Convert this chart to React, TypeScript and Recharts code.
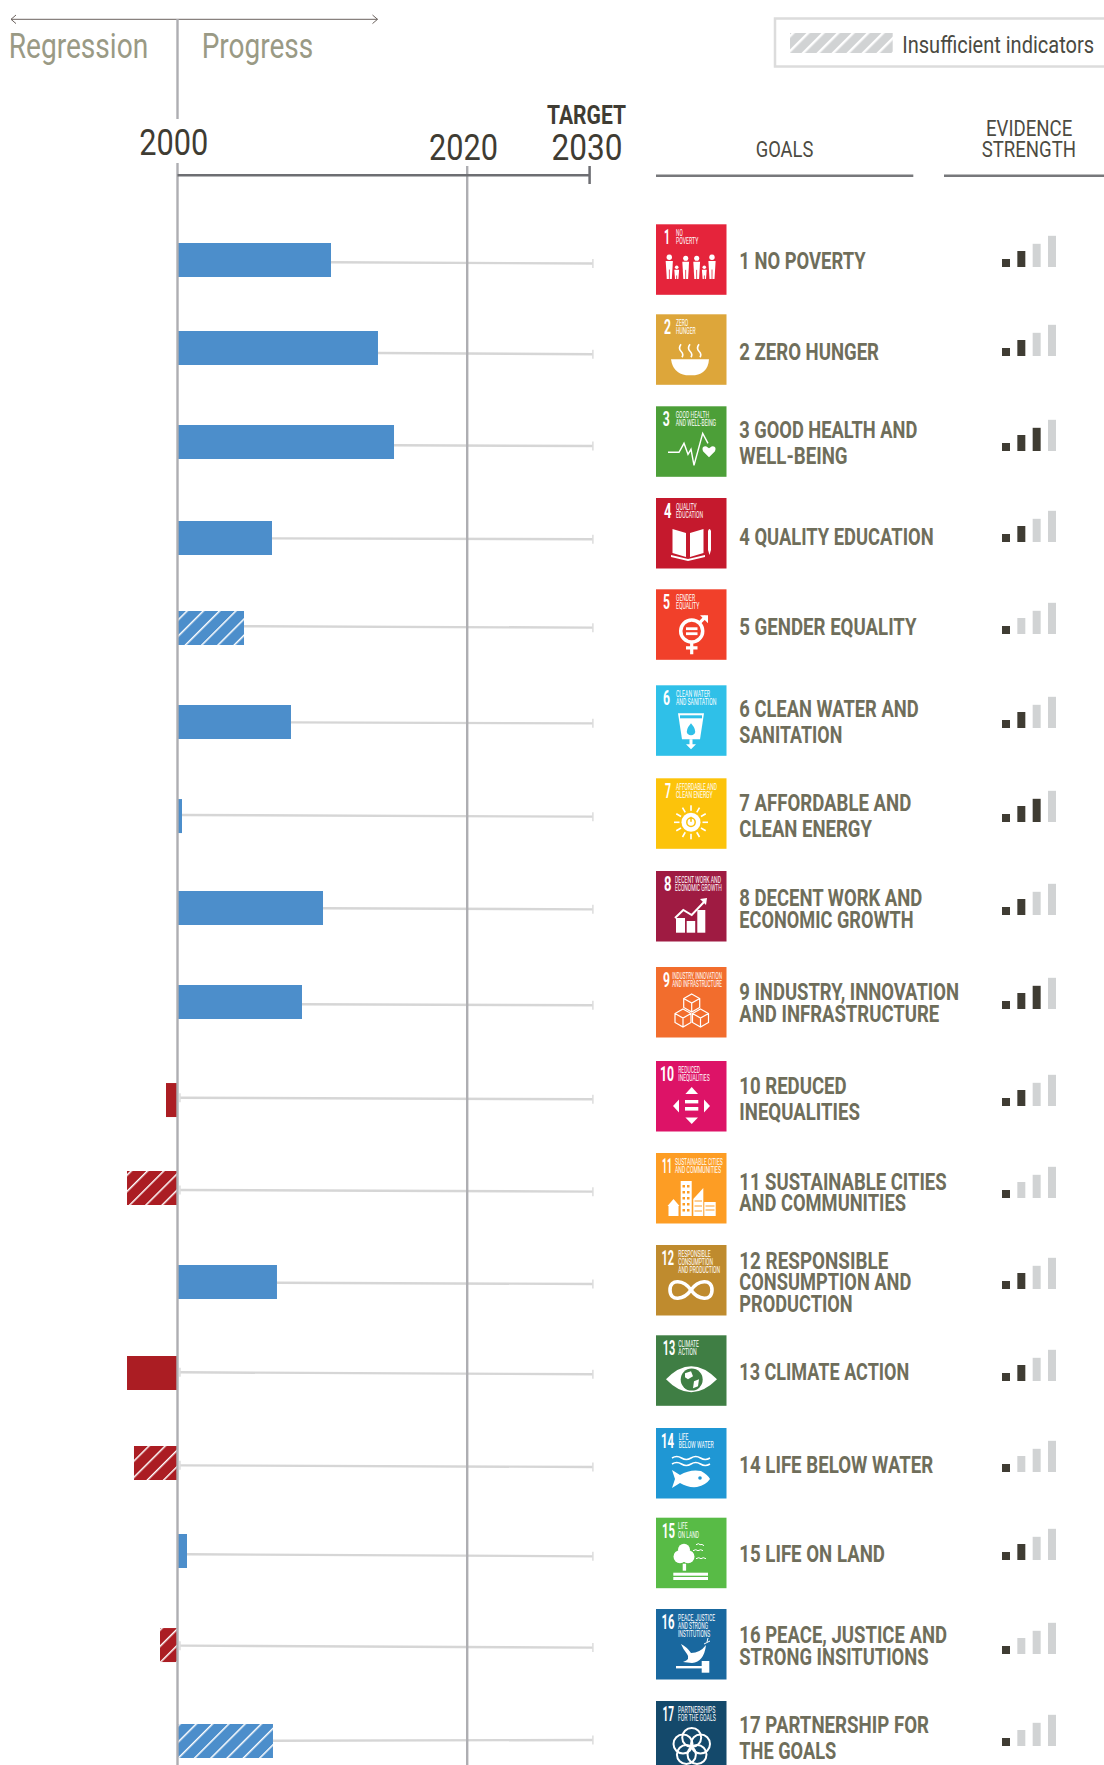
import {
  BarChart,
  Bar,
  Cell,
  XAxis,
  YAxis,
  ReferenceLine,
} from "recharts";

// data. progress: 2000 = 0, the 2030 target = 100
const GOAL_NUMBERS = [1, 2, 3, 4, 5, 6, 7, 8, 9, 10, 11, 12, 13, 14, 15, 16, 17];
const PROGRESS = [37.25, 48.65, 52.54, 22.93, 16.14, 27.54, 1.09, 35.31, 30.21, -2.79, -12.25, 24.14, -12.25, -10.56, 2.31, -4.25, 23.17];
const INSUFFICIENT = [5, 11, 14, 16, 17];
const EVIDENCE = [2, 2, 3, 2, 1, 2, 3, 2, 3, 2, 1, 2, 2, 1, 2, 1, 1];
const EVIDENCE_STEPS = [1, 2, 2.9, 3.9];
const YEAR_TICKS = [0, 70.3, 100];
const YEAR_LABELS: Record<number, string> = { 0: "2000", 70.3: "2020", 100: "2030" };
const TARGET_END = 100.8;

// the rows are hand placed in the original, so each has its own position (unit = one row)
const ROW_POSITION = [1, 1.951, 2.966, 4.003, 4.976, 5.991, 7.007, 8.001, 9.016, 10.075, 11.026, 12.041, 13.024, 13.997, 14.947, 15.963, 17];
const WHISKER_FROM = [1.025, 2.005, 3.002, 4.007, 4.957, 5.995, 6.996, 8.004, 9.041, 10.05, 11.047, 12.049, 13.017, 14.022, 14.983, 15.97, 16.997];
const WHISKER_TO = [1.038, 2.019, 3.009, 4.017, 4.972, 6.006, 7.014, 8.015, 9.052, 10.067, 11.065, 12.063, 13.038, 14.04, 15.005, 15.991, 16.989];

const GOAL_LABELS = [
  ["1 NO POVERTY"],
  ["2 ZERO HUNGER"],
  ["3 GOOD HEALTH AND", "WELL-BEING"],
  ["4 QUALITY EDUCATION"],
  ["5 GENDER EQUALITY"],
  ["6 CLEAN WATER AND", "SANITATION"],
  ["7 AFFORDABLE AND", "CLEAN ENERGY"],
  ["8 DECENT WORK AND", "ECONOMIC GROWTH"],
  ["9 INDUSTRY, INNOVATION", "AND INFRASTRUCTURE"],
  ["10 REDUCED", "INEQUALITIES"],
  ["11 SUSTAINABLE CITIES", "AND COMMUNITIES"],
  ["12 RESPONSIBLE", "CONSUMPTION AND", "PRODUCTION"],
  ["13 CLIMATE ACTION"],
  ["14 LIFE BELOW WATER"],
  ["15 LIFE ON LAND"],
  ["16 PEACE, JUSTICE AND", "STRONG INSITUTIONS"],
  ["17 PARTNERSHIP FOR", "THE GOALS"],
];
const TILE_CAPTIONS = [
  ["NO", "POVERTY"],
  ["ZERO", "HUNGER"],
  ["GOOD HEALTH", "AND WELL-BEING"],
  ["QUALITY", "EDUCATION"],
  ["GENDER", "EQUALITY"],
  ["CLEAN WATER", "AND SANITATION"],
  ["AFFORDABLE AND", "CLEAN ENERGY"],
  ["DECENT WORK AND", "ECONOMIC GROWTH"],
  ["INDUSTRY, INNOVATION", "AND INFRASTRUCTURE"],
  ["REDUCED", "INEQUALITIES"],
  ["SUSTAINABLE CITIES", "AND COMMUNITIES"],
  ["RESPONSIBLE", "CONSUMPTION", "AND PRODUCTION"],
  ["CLIMATE", "ACTION"],
  ["LIFE", "BELOW WATER"],
  ["LIFE", "ON LAND"],
  ["PEACE, JUSTICE", "AND STRONG", "INSTITUTIONS"],
  ["PARTNERSHIPS", "FOR THE GOALS"],
];
const TILE_COLORS = ["#e5243b", "#dda63a", "#4c9f38", "#c5192d", "#f1402a", "#2fc0e8", "#fcc30b", "#9f1b42", "#f26d2d", "#dd1367", "#fd9d24", "#bf8b2e", "#3f7e44", "#1f97d4", "#58bb46", "#19689f", "#14496b"];

// layout of the right-hand column
const TILE_TOP = [224.3, 314.3, 406.3, 498, 589.3, 685.3, 778.3, 871, 967, 1061, 1153, 1245, 1335.3, 1428, 1517.7, 1609, 1701];
const EVIDENCE_BASE = [267, 356, 451, 542, 634, 728, 822, 915, 1009, 1106, 1198, 1289, 1381, 1472, 1560, 1654, 1746];
const LABEL_BASE = [[269], [360], [438, 464], [545], [635], [717, 743], [811, 837], [906, 928], [1000, 1022], [1094, 1120], [1190, 1211], [1269, 1290, 1312], [1380], [1473], [1562], [1643, 1665], [1733, 1759]];
const LABEL_WIDTH = [[126.3], [139.7], [178, 108.3], [194.3], [177.3], [179.3, 103], [172, 132.7], [183, 174.3], [219.7, 200], [107.3, 120.7], [207.3, 166.7], [149, 172, 113.3], [170], [194], [145.7], [207.7, 189.3], [189.7, 97]];
const CAPTION_X = [20, 20, 19.7, 20, 20, 20, 20, 19, 16.3, 22.3, 19, 22.3, 22.3, 22.7, 22, 22, 22];
const CAPTION_WIDTH = [[6.7, 22.3], [12.3, 19.7], [33.3, 40.3], [20.7, 27], [19, 23.3], [34, 40.3], [41, 36.7], [46, 46.7], [49.7, 49.7], [21.7, 31.3], [47.7, 46], [32.3, 34.7, 41.7], [20.7, 18.3], [9.7, 35], [9.7, 21], [37, 30, 32.3], [37.3, 37.7]];
const NUMBER_X = [8, 8, 6.7, 8, 7, 7, 9, 8, 7, 4, 6, 5.5, 6.7, 5, 6, 5.5, 6.5];
const NUMBER_WIDTH = [6, 7, 7, 7.5, 7, 7, 6, 7.5, 7, 14, 10, 12.5, 12.5, 13, 13, 13, 11.5];

const PX_PER_ROW = 92.5625;
// y of a page pixel on the row axis; only for the furniture of the axis
const rowOf = (px: number) => 1 + (px - 260) / PX_PER_ROW;
const ROW_DOMAIN: [number, number] = [rowOf(1), rowOf(1765)];

const FONT = "Roboto, sans-serif";
const BLUE = "#4c8ecb";
const RED = "#ab1d23";
const AXIS_GREY = "#aeaeb2";
const WHISKER_GREY = "#d6d6d6";
const INK = "#3f3c33";
const LABEL_INK = "#6f6e5b";

const ROWS = GOAL_NUMBERS.map((goal, i) => ({
  goal,
  rowPosition: ROW_POSITION[i],
  progress: PROGRESS[i],
}));

function barFill(goal: number, value: number) {
  if (INSUFFICIENT.includes(goal)) return value < 0 ? "url(#hatchRed)" : "url(#hatchBlue)";
  return value < 0 ? RED : BLUE;
}

function FitText(props: {
  x: number;
  y: number;
  w: number;
  size: number;
  fill: string;
  bold?: boolean;
  children: string;
}) {
  const { x, y, w, size, fill, bold, children } = props;
  return (
    <text
      x={x}
      y={y}
      fontFamily={FONT}
      fontSize={size}
      fontWeight={bold ? 700 : 400}
      fill={fill}
      textLength={w}
      lengthAdjust="spacingAndGlyphs"
    >
      {children}
    </text>
  );
}

function YearTick(props: { x?: number; payload?: { value: number } }) {
  const { x = 0, payload } = props;
  if (!payload) return null;
  const value = payload.value;
  return (
    <g>
      <FitText x={x - 38.2} y={value === 0 ? 155 : 160} w={value === 100 ? 71 : 69} size={36.5} fill={INK}>
        {YEAR_LABELS[value]}
      </FitText>
      {value === 100 && (
        <FitText x={547} y={123.5} w={79} size={25} fill={INK} bold>
          TARGET
        </FitText>
      )}
    </g>
  );
}

function TileIcon({ goal, color }: { goal: number; color: string }) {
  const w = "#fff";
  switch (goal) {
    case 1:
      return (
        <g fill={w}>
          {[
            [13.3, 33, 3.6],
            [20.7, 43, 2.4],
            [29.7, 34, 3.4],
            [40.7, 34, 3.4],
            [48.3, 43, 2.4],
            [56, 33, 3.6],
          ].map(([cx, cy, r]) => (
            <g key={cx}>
              <circle cx={cx} cy={cy} r={r * 0.75} />
              <path d={`M${cx - r},${cy + r} H${cx + r} L${cx + r * 0.7},54.7 H${cx - r * 0.7}Z`} />
              <rect x={cx - 0.4} y={cy + r * 3.4} width={0.8} height={54.7 - cy - r * 3.4} fill={color} />
            </g>
          ))}
        </g>
      );
    case 2:
      return (
        <g>
          <path d="M15,45 H53 Q52,59 39,61 H30 Q17,59 15,45Z" fill={w} />
          {[25, 34, 43].map((x) => (
            <path key={x} d={`M${x},30 q-3,4 0,7 q3,3 1,6`} fill="none" stroke={w} strokeWidth={1.6} />
          ))}
        </g>
      );
    case 3:
      return (
        <g>
          <polyline points="12,46 23,46 28,37 32,48 35,43 38,59 46.7,27 52,37" fill="none" stroke={w} strokeWidth={1.4} />
          <path d="M53,51 L47,45 Q45,40 50,40 L53,42 L56,40 Q61,40 59,45Z" fill={w} />
        </g>
      );
    case 4:
      return (
        <g fill={w}>
          <path d="M16.5,31 L30,35 V59 L16.5,55Z" />
          <path d="M47.5,31 L34,35 V59 L47.5,55Z" />
          <path d="M15,57 L32,61 L49,57 V59 L32,63 L15,59Z" />
          <path d="M52,33 Q53.5,29 55,33 V52 L53.5,57 L52,52Z" />
        </g>
      );
    case 5:
      return (
        <g>
          <circle cx={35.7} cy={41.7} r={11} fill="none" stroke={w} strokeWidth={3.5} />
          <path d="M43,34 L50,27" stroke={w} strokeWidth={3.2} />
          <path d="M44,26 H52 V34Z" fill={w} />
          <path d="M35.7,53 V65 M30,58.5 H41.5" stroke={w} strokeWidth={3.2} fill="none" />
          <rect x={30} y={38} width={11.5} height={2.8} fill={w} />
          <rect x={30} y={43} width={11.5} height={2.8} fill={w} />
        </g>
      );
    case 6:
      return (
        <g>
          <path d="M22,28 H48 L44,54 H26Z" fill={w} />
          <rect x={24} y={30} width={22} height={3} fill={color} />
          <path d="M35,38 Q41,45 38.5,48.5 Q35,51.5 31.5,48.5 Q29,45 35,38Z" fill={color} />
          <path d="M33.5,54 H36.5 V59 H40 L35,64 L30,59 H33.5Z" fill={w} />
        </g>
      );
    case 7:
      return (
        <g>
          {[0, 30, 60, 90, 120, 150, 180, 210, 240, 270, 300, 330].map((a) => (
            <rect key={a} x={34.2} y={27} width={1.6} height={5.5} fill={w} transform={`rotate(${a} 35 44)`} />
          ))}
          <circle cx={35} cy={44} r={9.5} fill={w} />
          <circle cx={35} cy={44} r={4.2} fill="none" stroke={color} strokeWidth={1.5} />
          <rect x={34.2} y={38.5} width={1.6} height={5} fill={color} />
        </g>
      );
    case 8:
      return (
        <g fill={w}>
          <rect x={20} y={47} width={9} height={14.7} />
          <rect x={30.7} y={50} width={8.5} height={11.7} />
          <rect x={41.3} y={39} width={8} height={22.7} />
          <polyline points="19,47 27.3,39 35.7,44 48,31" fill="none" stroke={w} strokeWidth={2} />
          <path d="M44,28 L51,27 L50,34Z" />
        </g>
      );
    case 9:
      return (
        <g fill="none" stroke={w} strokeWidth={1.2}>
          {[
            [35.7, 36],
            [27, 51],
            [44.5, 51],
          ].map(([cx, cy]) => (
            <path
              key={cx}
              d={`M${cx},${cy - 9} l8,4.5 v9 l-8,4.5 l-8,-4.5 v-9z M${cx - 8},${cy - 4.5} l8,4.5 l8,-4.5 M${cx},${cy} v9`}
            />
          ))}
        </g>
      );
    case 10:
      return (
        <g fill={w}>
          <path d="M35.7,26 L42,33 H29.4Z" />
          <path d="M35.7,63 L42,56.5 H29.4Z" />
          <path d="M17,45 L23,38.5 V51.5Z" />
          <path d="M54,45 L48,38.5 V51.5Z" />
          <rect x={29} y={39} width={13.3} height={3.4} />
          <rect x={29} y={46} width={13.3} height={3.6} />
        </g>
      );
    case 11:
      return (
        <g fill={w}>
          <path d="M11.5,53 L17.5,46 L23.5,53 H22.5 V63 H12.5 V53Z" />
          <rect x={24.7} y={28} width={11} height={35} />
          <path d="M37.3,63 V46 L47.3,35 V63Z" />
          <rect x={48.3} y={49} width={11.4} height={14} />
          {[32, 38, 44, 50, 56].map((y) => (
            <g key={y} fill={color}>
              <rect x={26.5} y={y} width={2.5} height={2.5} />
              <rect x={31} y={y} width={2.5} height={2.5} />
            </g>
          ))}
          <path d="M38.5,48 H46 M38.5,53 H46 M38.5,58 H46 M49.5,53 H58.5 M49.5,57 H58.5" stroke={color} strokeWidth={1} />
        </g>
      );
    case 12:
      return (
        <path
          d="M35,45 C28,35 14,33 14,45 C14,57 28,55 35,45 C42,35 56,33 56,45 C56,57 42,55 35,45Z"
          fill="none"
          stroke={w}
          strokeWidth={3.6}
        />
      );
    case 13:
      return (
        <g>
          <path d="M10,44 Q35,18 61,44 Q35,70 10,44Z" fill={w} />
          <circle cx={35.7} cy={44.3} r={11} fill={color} />
          <path d="M29,38 L35,36 L37,41 L32,44 L29,42Z M38,46 L43,44 L42,51 L37,53Z" fill={w} />
        </g>
      );
    case 14:
      return (
        <g>
          {[30, 36].map((y) => (
            <path
              key={y}
              d={`M16,${y} q4.7,-3 9.5,0 t9.5,0 t9.5,0 t9.5,0`}
              fill="none"
              stroke={w}
              strokeWidth={1.5}
            />
          ))}
          <path d="M16,42 L24,47 Q34,41 45,43 Q52,47 54,51 Q50,57 41,59 Q32,60 24,55 L16,60 L19,51Z" fill={w} />
          <circle cx={44} cy={50} r={1.8} fill={color} />
        </g>
      );
    case 15:
      return (
        <g fill={w}>
          <circle cx={28} cy={32} r={6} />
          <circle cx={24} cy={39} r={6.5} />
          <circle cx={32} cy={39} r={6.5} />
          <rect x={26.7} y={46} width={3.4} height={7} />
          <rect x={17.3} y={55} width={34.7} height={3} />
          <rect x={17.3} y={59.3} width={34.7} height={3} />
          <path d="M37,33 q3,-2 5,0 q3,-2 5,0 M40,27 q3,-2 4,0 q2,-1 4,1 M40,41 q3,-2 5,0 q2,-2 5,0" fill="none" stroke={w} strokeWidth={1} />
        </g>
      );
    case 16:
      return (
        <g fill={w}>
          <path d="M25,35 Q31,38 35,44 Q44,44 50,36 Q48,53 36,54 L27,53 Q35,50 31,45 Q27,40 25,35Z" />
          <path d="M48,35 L54,32 M51,33 L52,29" fill="none" stroke={w} strokeWidth={1} />
          <rect x={20} y={57} width={26} height={2.4} />
          <rect x={45.7} y={52} width={7.6} height={11.7} />
        </g>
      );
    default:
      return (
        <g fill="none" stroke={w} strokeWidth={2}>
          {[
            [35.7, 36.5],
            [44.5, 43],
            [41, 53.5],
            [30.4, 53.5],
            [27, 43],
          ].map(([cx, cy]) => (
            <circle key={cx} cx={cx} cy={cy} r={9.5} />
          ))}
        </g>
      );
  }
}

function GoalTile({ index }: { index: number }) {
  const goal = GOAL_NUMBERS[index];
  const color = TILE_COLORS[index];
  const captions = TILE_CAPTIONS[index];
  return (
    <g transform={`translate(656 ${TILE_TOP[index]})`}>
      <rect width={70.5} height={70.5} fill={color} />
      <FitText x={NUMBER_X[index]} y={20} w={NUMBER_WIDTH[index]} size={20} fill="#fff" bold>
        {String(goal)}
      </FitText>
      {captions.map((line, i) => (
        <FitText
          key={line}
          x={CAPTION_X[index]}
          y={11.7 + i * 8.3}
          w={CAPTION_WIDTH[index][i]}
          size={8.6}
          fill="#fff"
        >
          {line}
        </FitText>
      ))}
      <TileIcon goal={goal} color={color} />
    </g>
  );
}

function EvidenceGlyph({ index }: { index: number }) {
  const data = EVIDENCE_STEPS.map((level, i) => ({ step: i + 1, level }));
  return (
    <div style={{ position: "absolute", left: 998.33, top: EVIDENCE_BASE[index] - 32 }}>
      <BarChart
        width={61.33}
        height={32}
        data={data}
        margin={{ top: 0, right: 0, bottom: 0, left: 0 }}
        barCategoryGap={0}
      >
        <XAxis dataKey="step" hide />
        <YAxis domain={[0, 4]} hide />
        <Bar dataKey="level" barSize={8} isAnimationActive={false}>
          {data.map((d) => (
            <Cell key={d.step} fill={d.step <= EVIDENCE[index] ? INK : "#d1d3d4"} />
          ))}
        </Bar>
      </BarChart>
    </div>
  );
}

function PageFurniture() {
  return (
    <svg width={1104} height={1765} style={{ position: "absolute", left: 0, top: 0 }}>
      <defs>
        <pattern id="hatchLegend" width={10.6} height={10.6} patternUnits="userSpaceOnUse" patternTransform="rotate(45)">
          <rect width={10.6} height={10.6} fill="#d1d3d4" />
          <rect width={2.4} height={10.6} fill="#fff" />
        </pattern>
      </defs>
      <path d="M11,19.3 H377.5 M16,15 L11,19.3 L16,23.6 M372.5,15 L377.5,19.3 L372.5,23.6" fill="none" stroke="#6b625e" strokeWidth={1} />
      <FitText x={8.7} y={58.3} w={139.5} size={35} fill="#9a9a85">Regression</FitText>
      <FitText x={201.7} y={58.3} w={111.5} size={35} fill="#9a9a85">Progress</FitText>

      <rect x={775} y={18.5} width={340} height={48} fill="none" stroke="#dcdcdc" strokeWidth={2.5} />
      <rect x={790} y={33} width={102.7} height={20} fill="url(#hatchLegend)" />
      <FitText x={902.3} y={53.3} w={191.7} size={24} fill="#4a4a42">Insufficient indicators</FitText>

      <FitText x={755.7} y={157} w={57.6} size={22.5} fill="#4c4b42">GOALS</FitText>
      <FitText x={986} y={136} w={86.3} size={22.5} fill="#4c4b42">EVIDENCE</FitText>
      <FitText x={981.7} y={157} w={94.3} size={22.5} fill="#4c4b42">STRENGTH</FitText>
      <rect x={656} y={174.5} width={257.3} height={2.5} fill="#77787b" />
      <rect x={944} y={174.5} width={160} height={2.5} fill="#77787b" />

      {GOAL_NUMBERS.map((goal, i) => (
        <GoalTile key={goal} index={i} />
      ))}
      {GOAL_LABELS.map((lines, i) =>
        lines.map((line, j) => (
          <FitText key={line} x={739.3} y={LABEL_BASE[i][j]} w={LABEL_WIDTH[i][j]} size={23} fill={LABEL_INK} bold>
            {line}
          </FitText>
        )),
      )}
    </svg>
  );
}

export default function App() {
  const capHalf = 4.5 / PX_PER_ROW;
  return (
    <div style={{ position: "absolute", left: 0, top: 0, width: 1104, height: 1765, overflow: "hidden", background: "#fff" }}>
      <PageFurniture />
      <div style={{ position: "absolute", left: 0, top: 0 }}>
        <BarChart
          layout="vertical"
          width={1104}
          height={1765}
          data={ROWS}
          margin={{ top: 0, right: 493.8, bottom: 0, left: 12.66 }}
        >
          <defs>
            <pattern id="hatchBlue" width={11.5} height={11.5} patternUnits="userSpaceOnUse" patternTransform="rotate(45)">
              <rect width={11.5} height={11.5} fill={BLUE} />
              <rect width={1.5} height={11.5} fill="#fff" />
            </pattern>
            <pattern id="hatchRed" width={11.5} height={11.5} patternUnits="userSpaceOnUse" patternTransform="rotate(45)">
              <rect width={11.5} height={11.5} fill={RED} />
              <rect width={1.5} height={11.5} fill="#fff" />
            </pattern>
          </defs>
          <XAxis
            type="number"
            orientation="top"
            domain={[-40, 105]}
            ticks={YEAR_TICKS}
            interval={0}
            height={1}
            axisLine={false}
            tickLine={false}
            tick={<YearTick />}
          />
          <YAxis type="number" dataKey="rowPosition" domain={ROW_DOMAIN} hide />

          {ROWS.map((row, i) => (
            <ReferenceLine
              key={`whisker-${row.goal}`}
              segment={[
                { x: Math.max(row.progress, 0.6), y: WHISKER_FROM[i] },
                { x: TARGET_END, y: WHISKER_TO[i] },
              ]}
              stroke={WHISKER_GREY}
              strokeWidth={2.4}
            />
          ))}
          {ROWS.map((row, i) => (
            <ReferenceLine
              key={`cap-${row.goal}`}
              segment={[
                { x: TARGET_END, y: WHISKER_TO[i] - capHalf },
                { x: TARGET_END, y: WHISKER_TO[i] + capHalf },
              ]}
              stroke="#dddddd"
              strokeWidth={1.5}
            />
          ))}
          {ROWS.filter((row) => row.progress < 0).map((row) => (
            <ReferenceLine
              key={`start-${row.goal}`}
              segment={[
                { x: 0.6, y: WHISKER_FROM[row.goal - 1] - capHalf },
                { x: 0.6, y: WHISKER_FROM[row.goal - 1] + capHalf },
              ]}
              stroke="#dddddd"
              strokeWidth={1.5}
            />
          ))}

          <Bar dataKey="progress" barSize={34} isAnimationActive={false}>
            {ROWS.map((row) => (
              <Cell key={row.goal} fill={barFill(row.goal, row.progress)} />
            ))}
          </Bar>

          {/* 2000 line is broken by its label, 2020 runs from the axis down */}
          <ReferenceLine segment={[{ x: 0, y: rowOf(19) }, { x: 0, y: rowOf(119) }]} stroke={AXIS_GREY} strokeWidth={2.4} />
          <ReferenceLine segment={[{ x: 0, y: rowOf(163) }, { x: 0, y: rowOf(1765) }]} stroke={AXIS_GREY} strokeWidth={2.4} />
          <ReferenceLine segment={[{ x: 70.3, y: rowOf(166) }, { x: 70.3, y: rowOf(1765) }]} stroke={AXIS_GREY} strokeWidth={2.4} />
          <ReferenceLine segment={[{ x: 0, y: rowOf(175.3) }, { x: 100, y: rowOf(175.3) }]} stroke="#6d6e72" strokeWidth={2.5} />
          <ReferenceLine segment={[{ x: 100, y: rowOf(166) }, { x: 100, y: rowOf(184) }]} stroke="#6d6e72" strokeWidth={2.5} />
        </BarChart>
      </div>
      {GOAL_NUMBERS.map((goal, i) => (
        <EvidenceGlyph key={goal} index={i} />
      ))}
    </div>
  );
}
